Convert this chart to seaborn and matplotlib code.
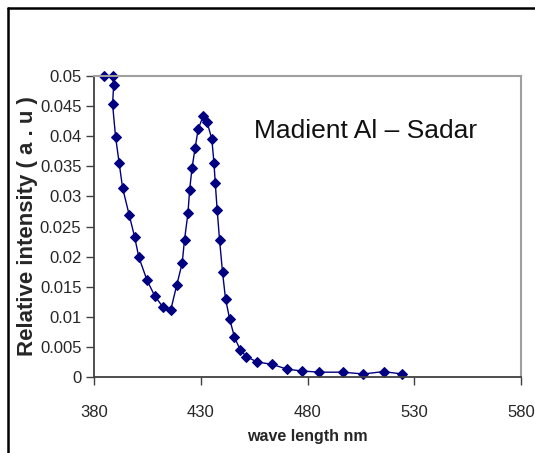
import matplotlib
matplotlib.use("Agg")
import matplotlib.pyplot as plt
from matplotlib.lines import Line2D
import seaborn as sns
import pandas as pd

wavelength = [384.5, 388.7, 389.2, 388.7, 390.1, 391.8, 393.4, 396.5, 399.0, 401.0,
              404.8, 408.4, 412.3, 416.0, 418.7, 421.3, 422.4, 424.0, 424.8, 425.9,
              427.4, 428.8, 431.2, 433.0, 435.2, 436.2, 436.8, 437.7, 438.8, 440.2,
              441.6, 443.5, 445.8, 448.5, 451.4, 456.3, 463.5, 470.4, 477.4, 485.6,
              496.6, 506.2, 515.6, 524.3]
intensity = [0.05, 0.05, 0.0485, 0.0453, 0.0399, 0.0355, 0.0314, 0.0269, 0.0233, 0.0199,
             0.0161, 0.0135, 0.0116, 0.0112, 0.0152, 0.0189, 0.0228, 0.0272, 0.0311, 0.0347,
             0.0381, 0.0412, 0.0434, 0.0423, 0.0395, 0.0355, 0.0322, 0.0277, 0.0228, 0.0174,
             0.0130, 0.0097, 0.0066, 0.0045, 0.0034, 0.0025, 0.0021, 0.0013, 0.0010, 0.0008,
             0.0008, 0.0005, 0.0009, 0.0005]
x_ticks = [380, 430, 480, 530, 580]
y_ticks = [0, 0.005, 0.01, 0.015, 0.02, 0.025, 0.03, 0.035, 0.04, 0.045, 0.05]
y_tick_labels = ["0", "0.005", "0.01", "0.015", "0.02", "0.025", "0.03", "0.035", "0.04", "0.045", "0.05"]
annotation = "Madient Al \u2013 Sadar"

sns.set_style("white")
plt.rcParams['font.family'] = ['Liberation Sans', 'DejaVu Sans']

df = pd.DataFrame({"wavelength": wavelength, "intensity": intensity})

fig = plt.figure(figsize=(5.35, 4.53), dpi=100)
ax = fig.add_axes([94/535, 1 - 377/453, (521 - 94)/535, (377 - 76)/453])

sns.lineplot(data=df, x="wavelength", y="intensity", sort=False, estimator=None,
             color="#000080", linewidth=1.0, marker="D", markersize=5.5,
             markeredgecolor="#000080", markerfacecolor="#000080", ax=ax, clip_on=False)

ax.set_xlim(380, 580)
ax.set_ylim(0, 0.05)
ax.set_xticks(x_ticks)
ax.set_xticklabels([str(t) for t in x_ticks], fontsize=12)
ax.set_yticks(y_ticks)
ax.set_yticklabels(y_tick_labels, fontsize=12)
ax.tick_params(axis='x', direction='out', length=6, width=1, color="#404040", pad=14, bottom=True)
ax.tick_params(axis='y', direction='out', length=6, width=1, color="#404040", pad=3, left=True)

ax.set_xlabel("wave length nm", fontsize=11.5, fontweight='bold', labelpad=7)
ax.set_ylabel("Relative intensity ( a . u )", fontsize=16, fontweight='bold', labelpad=1)

for side in ["left", "bottom"]:
    ax.spines[side].set_color("#404040")
    ax.spines[side].set_linewidth(1.3)
for side in ["top", "right"]:
    ax.spines[side].set_visible(True)
    ax.spines[side].set_color("#a0a0a0")
    ax.spines[side].set_linewidth(1.5)

ax.text((366 - 94) / 427, (377 - 131) / 301, annotation, transform=ax.transAxes,
        fontsize=19, ha='center', va='center', color="#111111")

# outer chart frame (left and top)
fig.add_artist(Line2D([8/535, 8/535], [0, 1 - 8/453], transform=fig.transFigure,
                      color="black", linewidth=1.8))
fig.add_artist(Line2D([8/535, 1], [1 - 8/453, 1 - 8/453], transform=fig.transFigure,
                      color="black", linewidth=1.8))

fig.savefig("out.png", dpi=100)
